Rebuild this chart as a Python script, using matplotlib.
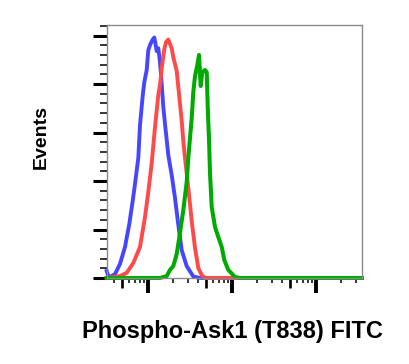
import matplotlib
matplotlib.use("Agg")
import matplotlib.pyplot as plt
from matplotlib.ticker import FixedLocator, NullFormatter

# Histogram curves (FITC intensity, events)
blue_x = [32.5, 33.7, 35.6, 40.8, 46.8, 53.7, 60.4, 66.3, 70.6, 77.3, 81.0, 87.2, 91.1,
          97.3, 101.7, 106.5, 113.4, 119.8, 123.9, 128.0, 133.7, 140.1, 146.8, 153.4,
          160.7, 168.4, 175.8, 193.0, 211.3, 231.4, 254.0, 291.2, 349.0, 419.4, 35500]
blue_y = [2.9, 1.2, 0.4, 1.6, 5.8, 12.8, 22.3, 31.8, 38.8, 49.5, 63.1, 75.1, 80.8,
          85.8, 94.0, 96.1, 98.1, 99.2, 96.5, 93.6, 94.8, 89.1, 80.0, 70.5,
          63.5, 56.9, 50.7, 42.5, 33.0, 21.9, 11.5, 4.9, 0.6, 0.0, 0.0]

red_x = [32.5, 38.9, 46.8, 56.2, 67.4, 81.0, 92.9, 101.7, 111.6, 122.2, 133.7, 140.1,
         146.8, 157.6, 165.2, 175.8, 184.3, 193.0, 201.7, 221.4, 231.4, 242.4, 254.0,
         265.3, 277.9, 304.3, 334.0, 365.7, 400.3, 439.5, 481.0, 551.6, 35500]
red_y = [0.0, 0.4, 0.8, 2.1, 6.2, 12.8, 25.2, 35.5, 47.4, 62.3, 75.5, 79.6,
         86.6, 94.4, 97.3, 98.4, 96.5, 94.8, 91.1, 85.4, 78.8, 71.8, 64.7,
         56.5, 49.5, 37.1, 23.5, 12.4, 4.1, 1.2, 0.0, 0.0, 0.0]

green_x = [32.5, 106.5, 140.1, 153.4, 168.4, 184.3, 201.7, 221.4, 242.4, 265.3, 291.2,
           304.3, 334.0, 349.0, 365.7, 389.5, 408.0, 427.6, 446.7, 481.0, 504.0, 518.0,
           536.8, 551.6, 578.0, 632.8, 692.6, 760.3, 816.4, 911.0, 1094.8, 1256, 35500]
green_y = [0.0, 0.0, 0.0, 0.4, 0.8, 3.3, 4.9, 9.9, 18.6, 28.0, 39.6,
           49.5, 66.0, 76.7, 83.3, 87.8, 92.0, 79.2, 84.9, 85.8, 84.9, 70.5,
           56.9, 43.3, 29.3, 21.0, 16.9, 12.8, 7.4, 3.3, 0.4, 0.0, 0.0]

x_major = [1e2, 1e3, 1e4]
x_mid = [50, 500, 5000]
x_minor = [40, 60, 70, 80, 90, 200, 300, 400, 600, 700, 800, 900,
           2000, 3000, 4000, 6000, 7000, 8000, 9000, 20000, 30000]
y_major = [0, 20, 40, 60, 80, 100]
y_minor = [4, 8, 12, 16, 24, 28, 32, 36, 44, 48, 52, 56, 64, 68, 72, 76,
           84, 88, 92, 96, 104]

fig = plt.figure(figsize=(4.1, 3.64), dpi=100)
ax = fig.add_axes([0.2602, 0.2363, 0.6227, 0.6959])

ax.plot(blue_x, blue_y, color="#4646ff", lw=2.8, clip_on=False, solid_joinstyle="round")
ax.plot(red_x, red_y, color="#ff4a4a", lw=2.8, clip_on=False, solid_joinstyle="round")
ax.plot(green_x, green_y, color="#00aa00", lw=2.9, clip_on=False, solid_joinstyle="round")

ax.set_xscale("log")
ax.set_xlim(32.5, 35500)
ax.set_ylim(0, 104.5)

ax.xaxis.set_major_locator(FixedLocator(x_major))
ax.xaxis.set_minor_locator(FixedLocator(x_minor))
ax.xaxis.set_major_formatter(NullFormatter())
ax.xaxis.set_minor_formatter(NullFormatter())
ax.yaxis.set_major_locator(FixedLocator(y_major))
ax.yaxis.set_minor_locator(FixedLocator(y_minor))
ax.yaxis.set_major_formatter(NullFormatter())
ax.yaxis.set_minor_formatter(NullFormatter())

ax.tick_params(axis="x", which="major", direction="out", length=11, width=2.8, color="black")
ax.tick_params(axis="x", which="minor", direction="out", length=3.8, width=1.1, color="black")
ax.tick_params(axis="y", which="major", direction="out", length=10, width=2.2, color="black")
ax.tick_params(axis="y", which="minor", direction="out", length=5, width=1.1, color="black")

# medium ticks at the 5s of each decade
sec = ax.secondary_xaxis("bottom")
sec.set_xticks(x_mid)
sec.xaxis.set_minor_locator(FixedLocator([]))
sec.set_xticklabels([])
sec.tick_params(axis="x", which="major", direction="out", length=7.2, width=1.9, color="black")
sec.spines["bottom"].set_visible(False)

for s in ax.spines.values():
    s.set_color("#8a8a8a")
    s.set_linewidth(1.0)

fig.text(0.568, 0.089, "Phospho-Ask1 (T838) FITC", ha="center", va="center",
         fontsize=17, fontweight="bold", family="Liberation Sans")
fig.text(0.1, 0.624, "Events", ha="center", va="center", rotation=90,
         fontsize=14, fontweight="bold", family="Liberation Sans")

fig.savefig("out.png", dpi=100)
